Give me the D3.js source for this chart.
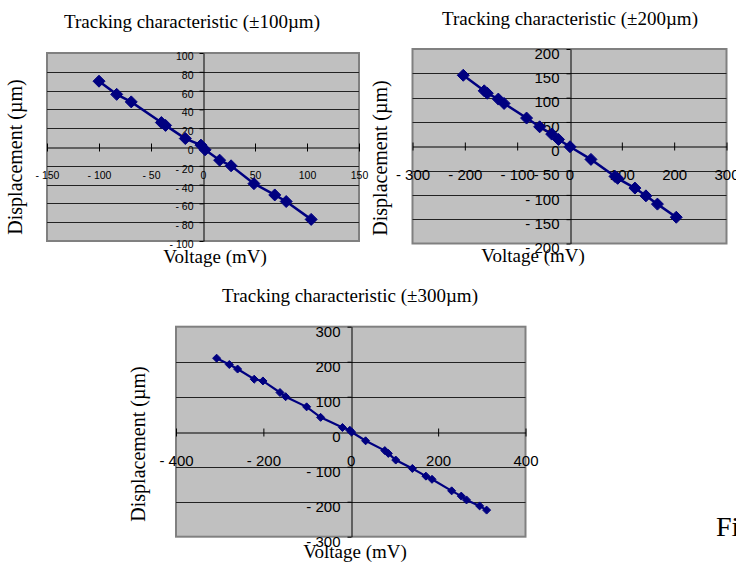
<!DOCTYPE html>
<html>
<head>
<meta charset="utf-8">
<script src="https://cdn.jsdelivr.net/npm/d3@7"></script>
<style>
  body { margin: 0; background: #fff; }
  svg { display: block; }
  .tick text { font-family: "Liberation Sans", Arial, sans-serif; fill: #000; }
  .ttl { font-family: "Liberation Serif", "Times New Roman", serif; fill: #000; }
</style>
</head>
<body>
<div id="fig"></div>
<script>
// ±100 µm
var volt100 = [-100, -83, -69, -40, -36, -17, -2, 2, 16, 27, 49, 69, 80, 104];
var disp100 = [70, 56, 48, 26, 23, 9, 2, -3, -14, -20, -39, -51, -58, -77];
// ±200 µm
var volt200 = [-203, -163, -157, -136, -125, -82, -57, -34, -21, 1, 41, 87, 92, 125, 146, 168, 204];
var disp200 = [146, 114, 109, 97, 88, 58, 40, 25, 14, -1, -27, -62, -66, -86, -102, -119, -146];
// ±300 µm
var volt300 = [-307, -278, -259, -221, -201, -162, -149, -101, -69, -19, -2, 2, 34, 78, 86, 103, 141, 172, 186, 231, 253, 265, 295, 311];
var disp300 = [210, 192, 179, 150, 145, 112, 100, 71, 41, 12, 4, -1, -26, -54, -62, -81, -105, -127, -136, -169, -184, -195, -212, -224];

var xTicks100 = [-150, -100, -50, 0, 50, 100, 150];
var yTicks100 = [100, 80, 60, 40, 20, 0, -20, -40, -60, -80, -100];
var xTicks200 = [-300, -200, -100, 0, 100, 200, 300];
var yTicks200 = [200, 150, 100, 50, 0, -50, -100, -150, -200];
var xTicks300 = [-400, -200, 0, 200, 400];
var yTicks300 = [300, 200, 100, 0, -100, -200, -300];

var svg = d3.select("#fig").append("svg")
    .attr("width", 736)
    .attr("height", 565);

var fmt = function(d) { return d < 0 ? "- " + (-d) : String(d); };

function drawChart(c) {
  var g = svg.append("g");
  var x = d3.scaleLinear().domain(c.xDomain).range(c.xRange);
  var y = d3.scaleLinear().domain(c.yDomain).range(c.yRange);

  // plot area
  g.append("rect")
      .attr("x", c.xRange[0]).attr("y", c.yRange[1])
      .attr("width", c.xRange[1] - c.xRange[0])
      .attr("height", c.yRange[0] - c.yRange[1])
      .attr("fill", "#c0c0c0")
      .attr("stroke", "#808080")
      .attr("stroke-width", 2);

  // gridlines
  g.selectAll(".grid").data(c.yTicks.filter(function(d) { return d !== 0 && d !== c.yDomain[0] && d !== c.yDomain[1]; }))
    .enter().append("line")
      .attr("x1", c.xRange[0]).attr("x2", c.xRange[1])
      .attr("y1", function(d) { return Math.round(y(d)) + 0.5; })
      .attr("y2", function(d) { return Math.round(y(d)) + 0.5; })
      .attr("stroke", "#222").attr("stroke-width", 1);

  // x axis through 0
  var xa = g.append("g")
      .attr("transform", "translate(0," + (Math.round(y(0)) + 0.5) + ")")
      .call(d3.axisBottom(x).tickValues(c.xTicks).tickSizeInner(c.tick).tickSizeOuter(0)
        .tickPadding(c.xPad).tickFormat(fmt));
  xa.select(".domain").attr("stroke", "#000");
  xa.selectAll(".tick line").attr("y1", -c.tick).attr("stroke", "#000");
  xa.selectAll(".tick text").style("font-size", c.tickFont + "px");

  // y axis through 0
  var ya = g.append("g")
      .attr("transform", "translate(" + (Math.round(x(0)) + 0.5) + ",0)")
      .call(d3.axisLeft(y).tickValues(c.yTicks).tickSizeInner(c.tick).tickSizeOuter(0)
        .tickPadding(c.yPad).tickFormat(fmt));
  ya.select(".domain").attr("stroke", "#000");
  ya.selectAll(".tick line").attr("x1", 0).attr("x2", -c.tick).attr("stroke", "#000");
  ya.selectAll(".tick text").style("font-size", c.tickFont + "px").attr("dy", c.yDy);

  // series
  var pts = c.vx.map(function(v, i) { return [v, c.vy[i]]; });
  g.append("path")
      .datum(pts)
      .attr("fill", "none")
      .attr("stroke", "#000080")
      .attr("stroke-width", c.lineW)
      .attr("d", d3.line().x(function(d) { return x(d[0]); }).y(function(d) { return y(d[1]); }));
  var s = c.marker;
  g.selectAll(".pt").data(pts).enter().append("path")
      .attr("transform", function(d) { return "translate(" + x(d[0]) + "," + y(d[1]) + ")"; })
      .attr("d", "M0," + (-s) + "L" + s + ",0L0," + s + "L" + (-s) + ",0Z")
      .attr("fill", "#000080")
      .attr("stroke", "#000080")
      .attr("stroke-width", 1)
      .attr("stroke-linejoin", "round");

  // titles
  g.append("text").attr("class", "ttl")
      .attr("x", c.title[0]).attr("y", c.title[1])
      .attr("text-anchor", "middle").style("font-size", "19px")
      .text(c.titleText);
  g.append("text").attr("class", "ttl")
      .attr("x", c.xTitle[0]).attr("y", c.xTitle[1])
      .attr("text-anchor", "middle").style("font-size", "19px")
      .text("Voltage (mV)");
  g.append("text").attr("class", "ttl")
      .attr("transform", "translate(" + c.yTitle[0] + "," + c.yTitle[1] + ") rotate(-90)")
      .attr("text-anchor", "middle").style("font-size", "20px")
      .text("Displacement (µm)");
}

drawChart({
  vx: volt100, vy: disp100, xTicks: xTicks100, yTicks: yTicks100,
  xDomain: [-150, 150], yDomain: [-100, 100],
  xRange: [47, 359], yRange: [241, 53],
  tick: 4, xPad: 20, yPad: 6, yDy: "0.62em", tickFont: 10.5,
  marker: 6, lineW: 2.5,
  title: [192, 28], titleText: "Tracking characteristic (±100µm)",
  xTitle: [215, 263], yTitle: [22, 157]
});

drawChart({
  vx: volt200, vy: disp200, xTicks: xTicks200, yTicks: yTicks200,
  xDomain: [-300, 300], yDomain: [-200, 200],
  xRange: [412.5, 726.5], yRange: [243.5, 49],
  tick: 4, xPad: 19, yPad: 7, yDy: "0.62em", tickFont: 15,
  marker: 6, lineW: 2.5,
  title: [570, 25], titleText: "Tracking characteristic (±200µm)",
  xTitle: [533, 262], yTitle: [387, 158]
});

drawChart({
  vx: volt300, vy: disp300, xTicks: xTicks300, yTicks: yTicks300,
  xDomain: [-400, 400], yDomain: [-300, 300],
  xRange: [176, 525.5], yRange: [536.7, 326.7],
  tick: 4, xPad: 19, yPad: 7, yDy: "0.65em", tickFont: 15,
  marker: 4, lineW: 2.2,
  title: [350, 302], titleText: "Tracking characteristic (±300µm)",
  xTitle: [355, 558], yTitle: [145, 444]
});

// figure caption fragment at the right edge
svg.append("text").attr("class", "ttl")
    .attr("x", 716).attr("y", 536)
    .style("font-size", "28px")
    .text("Fig");
</script>
</body>
</html>
